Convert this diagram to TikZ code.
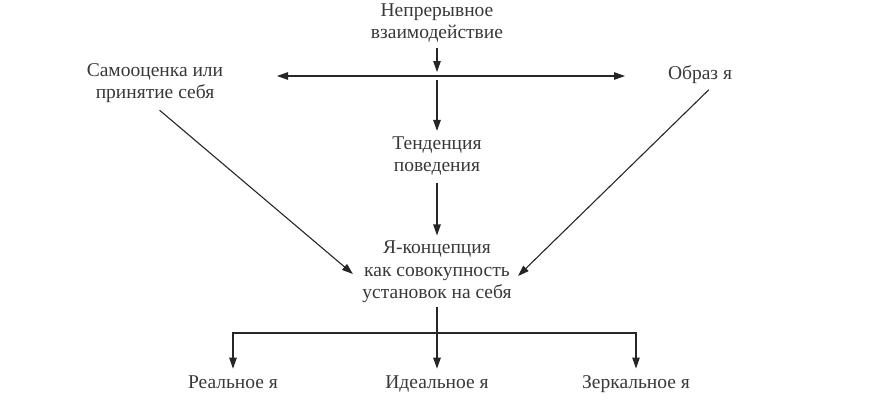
\documentclass[tikz,border=0pt]{standalone}
\usepackage{fontspec}
\setmainfont{Liberation Serif}
\usepackage{tikz}
\usetikzlibrary{positioning,arrows.meta}

\begin{document}
\begin{tikzpicture}[
    x = 1pt, y = -1pt,
    > = {Triangle[length=11pt,width=7.5pt]},
    line width = 1.1pt,
    color = black!85,
    label/.style={align=center, text=black!78, inner sep=3pt,
        font=\fontsize{19.5}{22.5}\selectfont}
]
    \useasboundingbox (0,0) rectangle (870,400);

    \node[label] (top)    at (437,23)  {Непрерывное\\взаимодействие};
    \node[label] (samo)   at (155,83)  {Самооценка или\\принятие себя};
    \node[label] (obraz)  at (700,75)  {Образ я};
    \node[label] (tend)   at (437,156) {Тенденция\\поведения};
    \node[label] (concept) at (437,272) {Я-концепция\\как совокупность\\установок на себя};
    \node[label, anchor=base] (real)   at (233,388) {Реальное я};
    \node[label, anchor=base] (ideal)  at (437,388) {Идеальное я};
    \node[label, anchor=base] (mirror) at (636,388) {Зеркальное я};

    \coordinate (hub)  at (437,76);
    \coordinate (hubL) at (277,76);
    \coordinate (hubR) at (625,76);
    \coordinate (fork) at (437,333);

    % horizontal arrows
    \draw[->] (hub) -- (hubL);
    \draw[->] (hub) -- (hubR);

    \path[->]
        (top) edge [shorten <=2pt, shorten >=4pt] (hub)
        (hub) edge [shorten <=4pt, shorten >=2pt] (tend)
        (tend) edge [shorten <=4pt, shorten >=2pt] (concept)
        (samo.south) edge [shorten <=6pt] ([xshift=-6,yshift=-2]concept.west)
        ([xshift=11]obraz.south) edge [shorten <=3pt] ([xshift=3,yshift=-4]concept.east);

    % branches
    \draw (concept) -- (fork);
    \draw[->, shorten >=3pt] (fork) -| (real);
    \draw[->, shorten >=3pt] (fork) -- (ideal);
    \draw[->, shorten >=3pt] (fork) -| (mirror);
\end{tikzpicture}
\end{document}
